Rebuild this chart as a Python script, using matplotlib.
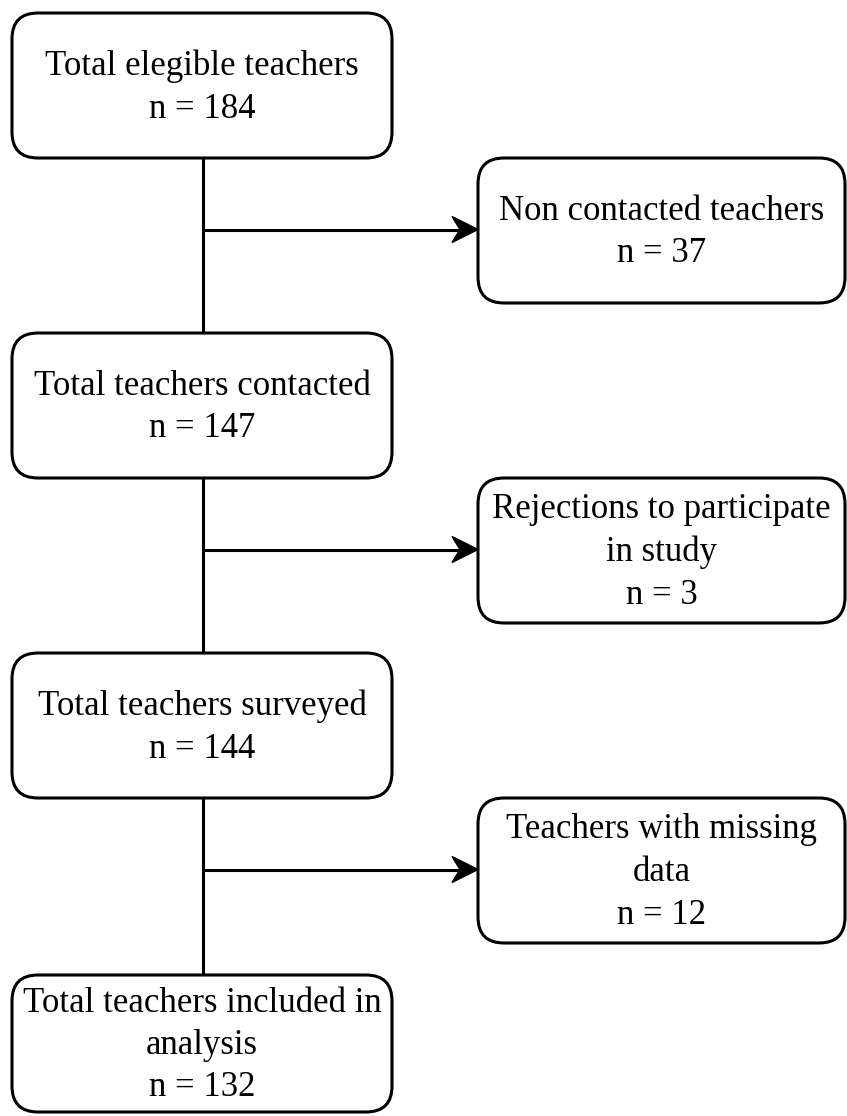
import matplotlib.pyplot as plt
from matplotlib.patches import FancyBboxPatch, Polygon

# %% data
main_labels = ['Total elegible teachers', 'Total teachers contacted',
               'Total teachers surveyed', 'Total teachers included in\nanalysis']
main_n = [184, 147, 144, 132]
side_labels = ['Non contacted teachers', 'Rejections to participate\nin study',
               'Teachers with missing\ndata']
side_n = [37, 3, 12]

# %% layout (pixels)
W, H = 847, 1116
main_box = [(12, 13, 380, 145), (12, 333, 380, 145), (12, 653, 380, 145), (12, 975, 380, 137)]
side_box = [(478, 158, 367, 145), (478, 478, 367, 145), (478, 798, 367, 145)]
xline = 203
lw = 2.2
fs = 25

plt.rcParams['font.family'] = ['Liberation Serif', 'DejaVu Serif']

fig = plt.figure(figsize=(W / 100, H / 100), dpi=100)
ax = fig.add_axes([0, 0, 1, 1])
ax.set_xlim(0, W)
ax.set_ylim(H, 0)
ax.axis('off')


def box(ax, x, y, w, h, text):
    p = FancyBboxPatch((x, y), w, h, boxstyle='round,pad=0,rounding_size=26',
                       fc='white', ec='black', lw=lw, zorder=3)
    ax.add_patch(p)
    ax.text(x + w / 2, y + h / 2 + 2, text, ha='center', va='center',
            fontsize=fs, linespacing=1.38, zorder=4)


for (x, y, w, h), lab, n in zip(main_box, main_labels, main_n):
    box(ax, x, y, w, h, f'{lab}\nn = {n}')
for (x, y, w, h), lab, n in zip(side_box, side_labels, side_n):
    box(ax, x, y, w, h, f'{lab}\nn = {n}')

# connectors + stealth arrow heads
hl, hw, notch = 26, 13, 8
for i in range(len(main_box) - 1):
    y0 = main_box[i][1] + main_box[i][3]
    y1 = main_box[i + 1][1]
    ax.plot([xline, xline], [y0, y1], color='black', lw=lw, zorder=2)
    sx, sy, sw, sh = side_box[i]
    ya = sy + sh / 2 - 1
    ax.plot([xline, sx - hl + notch], [ya, ya], color='black', lw=lw,
            solid_capstyle='butt', zorder=2)
    ax.add_patch(Polygon([(sx, ya), (sx - hl, ya - hw), (sx - hl + notch, ya),
                          (sx - hl, ya + hw)], closed=True, fc='black',
                         ec='black', lw=1, zorder=2))

fig.savefig('out.png', dpi=100)
